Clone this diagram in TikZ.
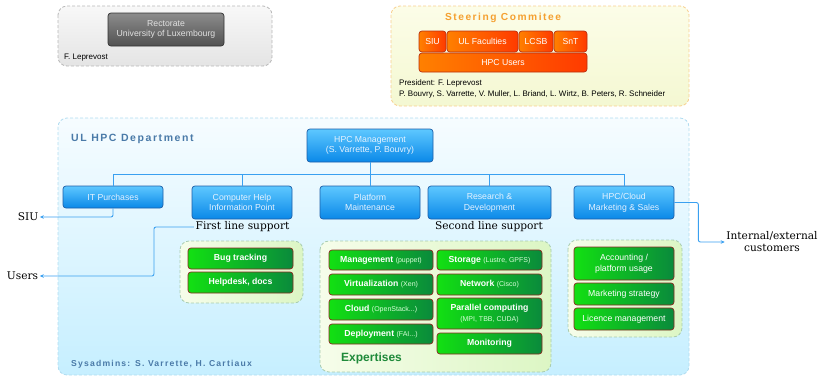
\documentclass[tikz,border=0pt]{standalone}
\usepackage{fontspec}
\setmainfont{Liberation Sans}
\newfontfamily\slab{DejaVu Serif}
\newfontfamily\spacedA{Liberation Sans}[LetterSpace=15]
\newfontfamily\spacedB{Liberation Sans}[LetterSpace=14]
\usetikzlibrary{arrows.meta}

\definecolor{blueA}{HTML}{5EC8FF}
\definecolor{blueB}{HTML}{0A88E8}
\definecolor{blueBd}{HTML}{1D5FA8}
\definecolor{blueTxt}{HTML}{E4F2FF}
\definecolor{greenA}{HTML}{12E012}
\definecolor{greenB}{HTML}{0A8A3C}
\definecolor{greenBd}{HTML}{8A2A20}
\definecolor{orangeA}{HTML}{FF8000}
\definecolor{orangeB}{HTML}{FF3A00}
\definecolor{orangeBd}{HTML}{B83010}
\definecolor{wire}{HTML}{3AA0F0}
\definecolor{deptTop}{HTML}{F6FCFF}
\definecolor{deptBot}{HTML}{C6EFFF}
\definecolor{deptBd}{HTML}{B0DCF0}
\definecolor{grnTop}{HTML}{F6FDEA}
\definecolor{grnBot}{HTML}{DCF6C4}
\definecolor{grnBd}{HTML}{A8CCB0}
\definecolor{strTop}{HTML}{FCFDE8}
\definecolor{strBot}{HTML}{F4F8D2}
\definecolor{strBd}{HTML}{F8D090}
\definecolor{recTop}{HTML}{F8F8F8}
\definecolor{recBot}{HTML}{E4E4E4}
\definecolor{recBd}{HTML}{B8B8B8}
\definecolor{deptTitle}{HTML}{4A7AA8}
\definecolor{steerTitle}{HTML}{F5A030}
\definecolor{expTitle}{HTML}{1F8A3A}

\tikzset{
  x=1pt, y=-1pt,
  grp/.style={dashed, dash pattern=on 3pt off 2pt, line width=0.8pt, rounded corners=9pt},
  boxbase/.style={rounded corners=3pt, inner sep=0pt, align=center, line width=0.7pt},
  bluebox/.style={boxbase, draw=blueBd, top color=blueA, bottom color=blueB,
    text=blueTxt, font=\fontsize{8.7}{10.7}\selectfont},
  greenbox/.style={boxbase, draw=greenBd, left color=greenA, right color=greenB,
    text=white, font=\fontsize{8.7}{10.7}\selectfont},
  orangebox/.style={boxbase, draw=orangeBd, left color=orangeA, right color=orangeB,
    text=white, font=\fontsize{8.7}{10.7}\selectfont},
  greybox/.style={boxbase, draw=black!80, top color=black!45, bottom color=black!68,
    text=black!12, font=\fontsize{8.7}{10.7}\selectfont},
  note/.style={inner sep=0pt, anchor=west, font=\fontsize{8}{9.5}\selectfont},
  slablabel/.style={inner sep=1.5pt, font=\slab\fontsize{10.6}{12}\selectfont, align=center},
  wireline/.style={draw=wire, line width=0.9pt},
  arrowline/.style={wireline, -{Stealth[length=4pt,width=3.5pt]}, rounded corners=2pt},
}
\newcommand{\sub}[1]{{\mdseries\fontsize{7}{8.5}\selectfont\color{white!85!green}#1}}

\begin{document}
\begin{tikzpicture}
\useasboundingbox (0,0) rectangle (823,376);

% ---- groups ----
\draw[grp, draw=recBd, top color=recTop, bottom color=recBot] (58,6) rectangle (272,66);
\draw[grp, draw=strBd, top color=strTop, bottom color=strBot] (391,6) rectangle (689,106);
\draw[grp, draw=deptBd, top color=deptTop, bottom color=deptBot] (58,118) rectangle (689,375);
\draw[grp, draw=grnBd, left color=grnTop, right color=grnBot] (180,241) rectangle (303,303);
\draw[grp, draw=grnBd, left color=grnTop, right color=grnBot] (320,241) rectangle (551,372);
\draw[grp, draw=grnBd, left color=grnTop, right color=grnBot] (568,240) rectangle (682,337);

% ---- rectorate ----
\node[greybox, minimum width=116pt, minimum height=33pt] (rect) at (166,29.5)
  {Rectorate\\University of Luxembourg};
\node[note] (rectpres) at (64,58) {F. Leprevost};

% ---- steering committee ----
\node[inner sep=0pt, text=steerTitle, font=\spacedA\bfseries\fontsize{10.2}{12}\selectfont] (steertitle) at (503,18) {Steering Commitee};
\node[orangebox, minimum width=27pt, minimum height=21pt] (ssiu) at (432.5,41.5) {SIU};
\node[orangebox, minimum width=71pt, minimum height=21pt] (ulf) at (482.5,41.5) {UL Faculties};
\node[orangebox, minimum width=34pt, minimum height=21pt] (lcsb) at (536,41.5) {LCSB};
\node[orangebox, minimum width=33pt, minimum height=21pt] (snt) at (570.5,41.5) {SnT};
\node[orangebox, minimum width=168pt, minimum height=19pt] (hpcu) at (503,62.5) {HPC Users};
\node[note] (pres) at (399,83) {President: F. Leprevost};
\node[note] (members) at (399,94) {P. Bouvry, S. Varrette, V. Muller, L. Briand, L. Wirtz, B. Peters, R. Schneider};

% ---- department ----
\node[inner sep=0pt, anchor=west, text=deptTitle, font=\spacedA\bfseries\fontsize{10.5}{12}\selectfont] (depttitle) at (71,139) {UL HPC Department};
\node[inner sep=0pt, anchor=west, text=deptTitle, font=\spacedB\bfseries\fontsize{8.6}{10}\selectfont] (sysadm) at (71,364) {Sysadmins: S. Varrette, H. Cartiaux};

\node[bluebox, minimum width=126pt, minimum height=33pt] (mgmt) at (370,145.5) {HPC Management\\(S. Varrette, P. Bouvry)};
\node[bluebox, minimum width=100pt, minimum height=22pt] (itp) at (113,197) {IT Purchases};
\node[bluebox, minimum width=100pt, minimum height=33pt] (chip) at (242,202.5) {Computer Help\\Information Point};
\node[bluebox, minimum width=100pt, minimum height=33pt] (plat) at (370,202.5) {Platform\\Maintenance};
\node[bluebox, minimum width=123pt, minimum height=33pt] (rnd) at (489.5,202.5) {Research \&\\Development};
\node[bluebox, minimum width=100pt, minimum height=33pt] (mkt) at (624,202.5) {HPC/Cloud\\Marketing \& Sales};

% tree connectors
\coordinate (bus) at (0,174);
\draw[wireline] (mgmt.south) -- (mgmt.south |- bus);
\draw[wireline] (itp.north) -- (itp.north |- bus) -- (mkt.north |- bus) -- (mkt.north);
\draw[wireline] (chip.north |- bus) -- (chip.north);
\draw[wireline] (plat.north |- bus) -- (plat.north);
\draw[wireline] (rnd.north |- bus) -- (rnd.north);

% support levels
\node[slablabel] (first) at (242.5,227) {First line support};
\node[slablabel] (second) at (489,227) {Second line support};

% first line support
\node[greenbox, minimum width=105pt, minimum height=21pt] (bug) at (240.5,258.5) {\textbf{Bug tracking}};
\node[greenbox, minimum width=105pt, minimum height=21pt] (help) at (240.5,282.5) {\textbf{Helpdesk, docs}};

% expertises
\node[greenbox, minimum width=104pt, minimum height=20pt] (emgmt) at (381,260) {\textbf{Management} \sub{(puppet)}};
\node[greenbox, minimum width=104pt, minimum height=21pt] (evirt) at (381,284.5) {\textbf{Virtualization} \sub{(Xen)}};
\node[greenbox, minimum width=104pt, minimum height=21pt] (ecloud) at (381,309.5) {\textbf{Cloud} \sub{(OpenStack...)}};
\node[greenbox, minimum width=104pt, minimum height=20pt] (edepl) at (381,334) {\textbf{Deployment} \sub{(FAI...)}};
\node[greenbox, minimum width=105pt, minimum height=20pt] (estor) at (489.5,260) {\textbf{Storage} \sub{(Lustre, GPFS)}};
\node[greenbox, minimum width=105pt, minimum height=21pt] (enet) at (489.5,284.5) {\textbf{Network} \sub{(Cisco)}};
\node[greenbox, minimum width=105pt, minimum height=31pt] (epar) at (489.5,313.5) {\textbf{Parallel computing}\\\sub{(MPI, TBB, CUDA)}};
\node[greenbox, minimum width=105pt, minimum height=21pt] (emon) at (489.5,343.5) {\textbf{Monitoring}};
\node[inner sep=0pt, anchor=west, text=expTitle, font=\bfseries\fontsize{12}{14}\selectfont] (exptitle) at (341,358) {Expertises};

% marketing
\node[greenbox, minimum width=100pt, minimum height=33pt] (acc) at (624,263.5) {Accounting /\\platform usage};
\node[greenbox, minimum width=100pt, minimum height=22pt] (mstrat) at (624,294) {Marketing strategy};
\node[greenbox, minimum width=100pt, minimum height=22pt] (lic) at (624,319) {Licence management};

% external targets
\node[slablabel] (siu) at (28,217) {SIU};
\node[slablabel] (users) at (22.5,276) {Users};
\node[slablabel] (cust) at (772,242) {Internal/external\\customers};

\draw[arrowline] (itp.south) |- (siu.east);
\draw[arrowline] (first.west) -- ++(-40,0) |- (users.east);
\draw[arrowline] (mkt.east) -- ++(24,0) |- (cust.west);
\end{tikzpicture}
\end{document}
